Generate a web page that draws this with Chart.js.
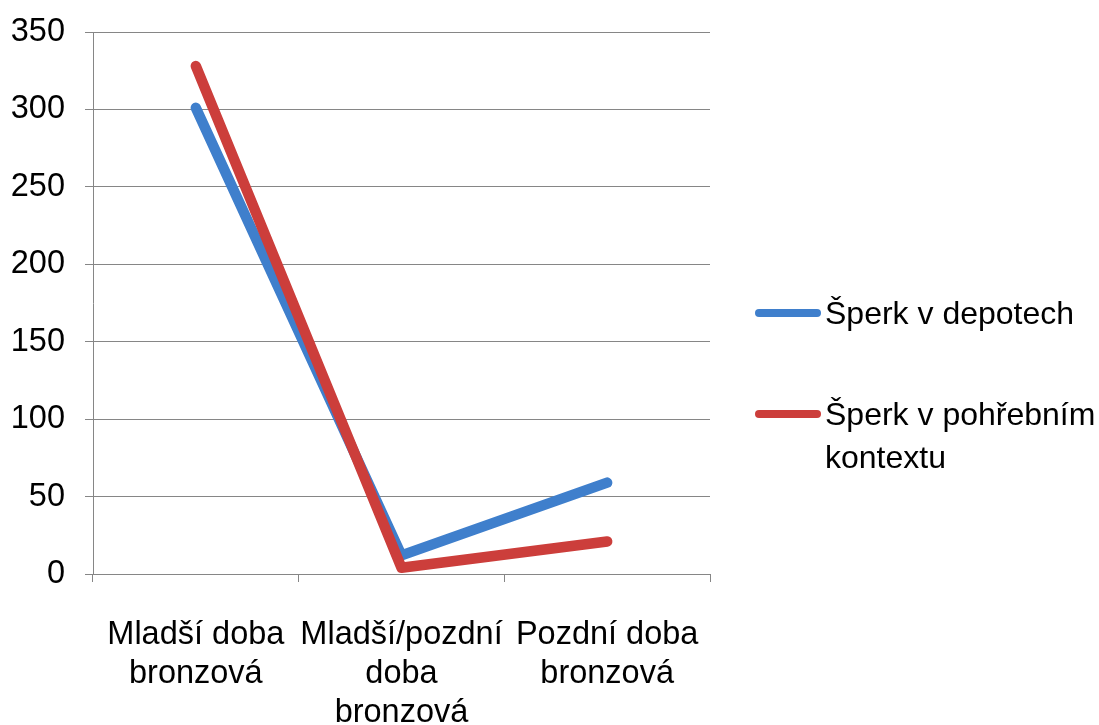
<!DOCTYPE html>
<html>
<head>
<meta charset="utf-8">
<script src="https://cdn.jsdelivr.net/npm/chart.js@4/dist/chart.umd.min.js"></script>
<style>
    body { margin: 0; background: #fff; }
    #wrap { position: relative; width: 1099px; height: 725px; }
    canvas { display: block; }
    .legend { position: absolute; left: 755px; top: 0; font-family: "Liberation Sans", Arial, sans-serif; font-size: 32px; color: #000; }
    .legend .item { position: absolute; left: 0; white-space: nowrap; }
    .legend .swatch { position: absolute; left: 0; width: 66px; height: 8px; border-radius: 4px; }
    .legend .text { position: absolute; left: 70px; line-height: 43px; }
</style>
</head>
<body>
<div id="wrap">
    <canvas id="chart" width="1099" height="725"></canvas>
    <div class="legend" id="legend"></div>
</div>
<script>
const categories = [
    ['Mladší doba', 'bronzová'],
    ['Mladší/pozdní', 'doba', 'bronzová'],
    ['Pozdní doba', 'bronzová']
];
const depotValues = [301, 12, 59];
const burialValues = [328, 4, 21];
const seriesNames = ['Šperk v depotech', 'Šperk v pohřebním kontextu'];
const legendLines = [['Šperk v depotech'], ['Šperk v pohřebním', 'kontextu']];
const seriesColors = ['#3f7fcc', '#cc3e3b'];

const font = { family: '"Liberation Sans", Arial, sans-serif', size: 32.5 };
const gridColor = '#868686';

const ctx = document.getElementById('chart').getContext('2d');
const chart = new Chart(ctx, {
    type: 'line',
    data: {
        labels: categories,
        datasets: [{
            label: seriesNames[0],
            data: depotValues,
            borderColor: seriesColors[0],
            order: 1
        }, {
            label: seriesNames[1],
            data: burialValues,
            borderColor: seriesColors[1],
            order: 0
        }]
    },
    options: {
        responsive: false,
        animation: false,
        events: [],
        layout: { padding: { top: 32, right: 389, left: 0, bottom: 0 } },
        elements: {
            line: { borderWidth: 10.5, borderCapStyle: 'round', borderJoinStyle: 'round', tension: 0 },
            point: { radius: 0 }
        },
        plugins: {
            legend: { display: false },
            tooltip: { enabled: false }
        },
        scales: {
            x: {
                offset: true,
                grid: { offset: true, drawOnChartArea: false, drawTicks: true, tickLength: 8, color: gridColor },
                border: { display: true, color: gridColor, width: 1 },
                ticks: { color: '#000', font: font, padding: 34, maxRotation: 0, autoSkip: false, lineHeight: 1.17 },
                afterFit: s => { s.height = 151; }
            },
            y: {
                min: 0,
                max: 350,
                ticks: { stepSize: 50, color: '#000', font: font, padding: 20 },
                grid: { color: gridColor, tickLength: 8 },
                border: { display: true, color: gridColor, width: 1 },
                afterFit: s => {
                    s.width = 93;
                    s.paddingTop = 0;
                    s.paddingBottom = 0;
                }
            }
        }
    }
});

// legend drawn as html, built from the dataset names
const legendTops = [313, 414];
const legendEl = document.getElementById('legend');
chart.data.datasets.forEach((ds, i) => {
    const item = document.createElement('div');
    item.className = 'item';
    item.style.top = legendTops[i] + 'px';
    item.innerHTML = `
        <div class="swatch" style="background:${ds.borderColor};top:-4px"></div>
        <div class="text" style="top:-21px">${legendLines[i].join('<br>')}</div>
    `;
    legendEl.appendChild(item);
});
</script>
</body>
</html>
